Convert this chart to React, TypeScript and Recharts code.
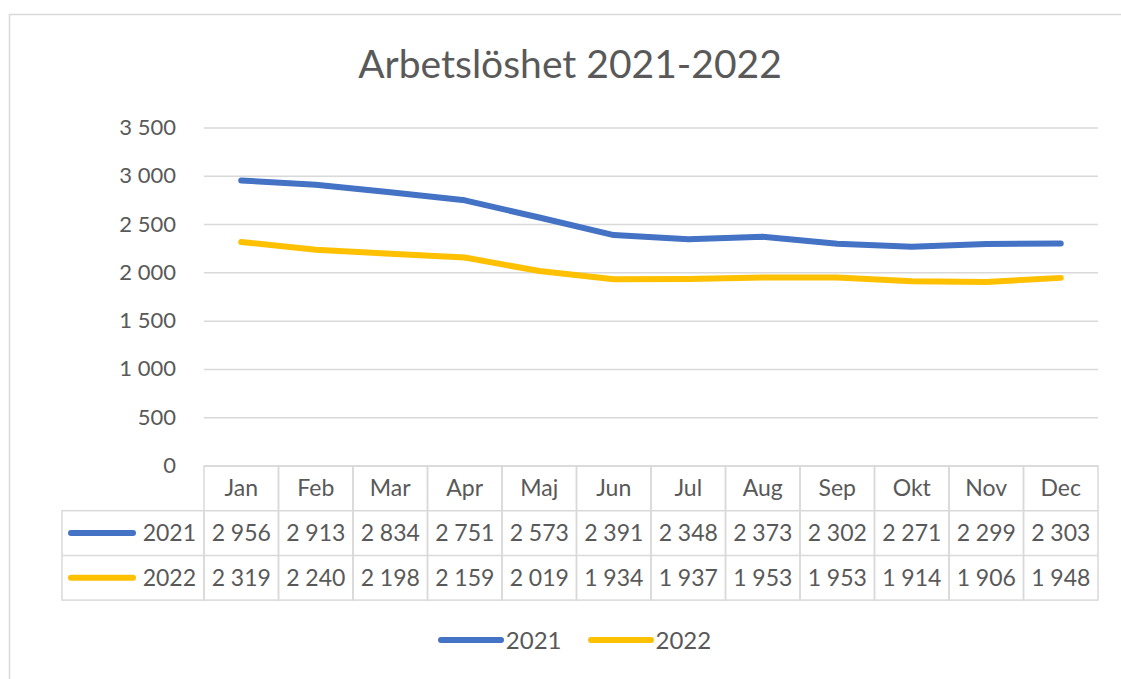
import { CartesianGrid, Legend, Line, LineChart, XAxis, YAxis } from "recharts";

const months = ["Jan", "Feb", "Mar", "Apr", "Maj", "Jun", "Jul", "Aug", "Sep", "Okt", "Nov", "Dec"];
const values2021 = [2956, 2913, 2834, 2751, 2573, 2391, 2348, 2373, 2302, 2271, 2299, 2303];
const values2022 = [2319, 2240, 2198, 2159, 2019, 1934, 1937, 1953, 1953, 1914, 1906, 1948];
const yTicks = [0, 500, 1000, 1500, 2000, 2500, 3000, 3500];

const seriesList = [
  { key: "y2021", name: "2021", color: "#4472C4", values: values2021 },
  { key: "y2022", name: "2022", color: "#FFC000", values: values2022 }
];

const data = months.map((m, i) => ({ month: m, y2021: values2021[i], y2022: values2022[i] }));

const FONT = "Lato, 'Open Sans', sans-serif";
const TEXT = "#595959";
const BORDER = "#D9D9D9";
const PLOT_W = 894;
const COL_W = PLOT_W / months.length;
const ROW_H = 44.7;
const LABEL_COL_W = 142;
const CELL_FS = 23;

const fmt = (v: number) => v.toLocaleString("sv-SE").replace(/\u00a0/g, " ");

function TableTick(props: any) {
  const { x, y, index, payload } = props;
  const left = x - COL_W / 2;
  return (
    <g>
      <rect x={left} y={y} width={COL_W} height={ROW_H * 3} fill="none" stroke={BORDER} strokeWidth={1.5} />
      <line x1={left} x2={left + COL_W} y1={y + ROW_H} y2={y + ROW_H} stroke={BORDER} strokeWidth={1.5} />
      <line x1={left} x2={left + COL_W} y1={y + ROW_H * 2} y2={y + ROW_H * 2} stroke={BORDER} strokeWidth={1.5} />
      <text x={x} y={y + ROW_H / 2 + 8} textAnchor="middle" fontSize={CELL_FS} fill={TEXT} fontFamily={FONT}>
        {payload.value}
      </text>
      {seriesList.map((s, r) => (
        <text
          key={s.key}
          x={x}
          y={y + ROW_H * (r + 1) + ROW_H / 2 + 8}
          textAnchor="middle"
          fontSize={CELL_FS}
          fill={TEXT}
          fontFamily={FONT}
        >
          {fmt(s.values[index])}
        </text>
      ))}
      {index === 0 && (
        <g>
          <rect
            x={left - LABEL_COL_W}
            y={y + ROW_H}
            width={LABEL_COL_W}
            height={ROW_H * 2}
            fill="none"
            stroke={BORDER}
            strokeWidth={1.5}
          />
          <line
            x1={left - LABEL_COL_W}
            x2={left}
            y1={y + ROW_H * 2}
            y2={y + ROW_H * 2}
            stroke={BORDER}
            strokeWidth={1.5}
          />
          {seriesList.map((s, r) => (
            <g key={s.key}>
              <line
                x1={left - LABEL_COL_W + 9}
                x2={left - LABEL_COL_W + 71}
                y1={y + ROW_H * (r + 1) + ROW_H / 2}
                y2={y + ROW_H * (r + 1) + ROW_H / 2}
                stroke={s.color}
                strokeWidth={6}
                strokeLinecap="round"
              />
              <text
                x={left - 8}
                y={y + ROW_H * (r + 1) + ROW_H / 2 + 8}
                textAnchor="end"
                fontSize={CELL_FS}
                fill={TEXT}
                fontFamily={FONT}
              >
                {s.name}
              </text>
            </g>
          ))}
        </g>
      )}
    </g>
  );
}

function YTick(props: any) {
  const { x, y, payload } = props;
  return (
    <text x={x} y={y + 7} textAnchor="end" fontSize={22} fill={TEXT} fontFamily={FONT}>
      {fmt(payload.value)}
    </text>
  );
}

function LegendContent() {
  return (
    <div style={{ display: "flex", justifyContent: "center", gap: 26, fontFamily: FONT, fontSize: 24, color: TEXT }}>
      {seriesList.map((s) => (
        <div key={s.key} style={{ display: "flex", alignItems: "center" }}>
          <svg width={68} height={10}>
            <line x1={3} x2={63} y1={5} y2={5} stroke={s.color} strokeWidth={6} strokeLinecap="round" />
          </svg>
          <span>{s.name}</span>
        </div>
      ))}
    </div>
  );
}

export default function App() {
  return (
    <div style={{ position: "absolute", left: 0, top: 0, width: 1121, height: 679, background: "#fff", overflow: "hidden" }}>
      <svg style={{ position: "absolute", left: 0, top: 0 }} width={1121} height={679}>
        <rect x={9.5} y={14.5} width={1300} height={900} fill="none" stroke={BORDER} strokeWidth={1.5} />
        <text x={570} y={78} textAnchor="middle" fontSize={39} fill={TEXT} fontFamily={FONT}>
          Arbetslöshet 2021-2022
        </text>
      </svg>
      <div style={{ position: "absolute", left: 0, top: 0 }}>
        <LineChart width={1121} height={679} data={data} margin={{ top: 128, right: 23, left: 144, bottom: 79 }}>
          <CartesianGrid vertical={false} stroke={BORDER} strokeWidth={1.5} />
          <XAxis
            dataKey="month"
            axisLine={false}
            tickLine={false}
            tickSize={0}
            tickMargin={0}
            height={134}
            interval={0}
            padding={{ left: COL_W / 2, right: COL_W / 2 }}
            tick={<TableTick />}
          />
          <YAxis
            width={60}
            domain={[0, 3500]}
            ticks={yTicks}
            axisLine={false}
            tickLine={false}
            tickSize={0}
            tickMargin={28}
            tick={<YTick />}
          />
          <Legend
            layout="horizontal"
            verticalAlign="middle"
            align="center"
            wrapperStyle={{ top: 625, left: 14, width: 1121 }}
            content={<LegendContent />}
          />
          {seriesList.map((s) => (
            <Line
              key={s.key}
              type="linear"
              dataKey={s.key}
              name={s.name}
              stroke={s.color}
              strokeWidth={6}
              strokeLinejoin="round"
              strokeLinecap="round"
              dot={false}
              activeDot={false}
              isAnimationActive={false}
            />
          ))}
        </LineChart>
      </div>
    </div>
  );
}
